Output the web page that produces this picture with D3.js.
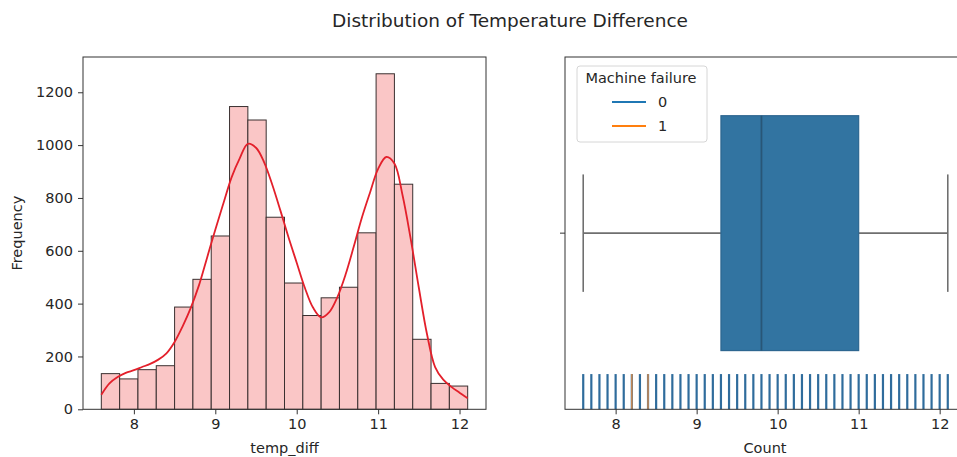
<!DOCTYPE html>
<html>
<head>
<meta charset="utf-8">
<script src="https://cdn.jsdelivr.net/npm/d3@7"></script>
<style>
  body { margin: 0; background: #ffffff; }
  svg { display: block; font-family: "DejaVu Sans", sans-serif; }
</style>
</head>
<body>
<svg id="chart" width="957" height="457"></svg>
<script>
// ---- data ----
const binEdges = [7.6, 7.825, 8.05, 8.275, 8.5, 8.725, 8.95, 9.175, 9.4, 9.625, 9.85,
                  10.075, 10.3, 10.525, 10.75, 10.975, 11.2, 11.425, 11.65, 11.875, 12.1];
const binCounts = [135, 115, 150, 165, 387, 492, 656, 1146, 1095, 727, 478,
                   355, 422, 462, 668, 1270, 852, 265, 98, 88];

// smoothed density curve, already in count units
const kdeX = [7.6, 7.7, 7.8, 7.9, 8.0, 8.1, 8.2, 8.3, 8.4, 8.5, 8.6, 8.7, 8.8, 8.9, 9.0,
              9.1, 9.2, 9.3, 9.4, 9.5, 9.6, 9.7, 9.8, 9.9, 10.0, 10.1, 10.2, 10.3, 10.4,
              10.5, 10.6, 10.7, 10.8, 10.9, 11.0, 11.1, 11.2, 11.3, 11.4, 11.5, 11.6,
              11.7, 11.8, 11.9, 12.0, 12.1];
const kdeY = [55, 98, 122, 138, 148, 160, 172, 188, 212, 255, 315, 385, 470, 575, 680,
              780, 878, 950, 1005, 990, 935, 850, 752, 650, 555, 460, 385, 348, 368,
              425, 510, 615, 725, 820, 910, 955, 930, 810, 645, 460, 285,
              160, 112, 85, 63, 42];

const xTicks = [8, 9, 10, 11, 12];
const yTicks = [0, 200, 400, 600, 800, 1000, 1200];

// box summary of temp_diff
const boxStats = { whiskerLow: 7.6, q1: 9.3, median: 9.8, q3: 11.0, whiskerHigh: 12.1 };

// distinct temp_diff values, per machine failure class
const rugValues0 = [7.6, 7.7, 7.8, 7.9, 8.0, 8.1, 8.2, 8.3, 8.4, 8.5, 8.6, 8.7, 8.8, 8.9,
                    9.0, 9.1, 9.2, 9.3, 9.4, 9.5, 9.6, 9.7, 9.8, 9.9, 10.0, 10.1, 10.2,
                    10.3, 10.4, 10.5, 10.6, 10.7, 10.8, 10.9, 11.0, 11.1, 11.2, 11.3,
                    11.4, 11.5, 11.6, 11.7, 11.8, 11.9, 12.0, 12.1];
const rugValues1 = [8.2, 8.4];
const failureClasses = ["0", "1"];
const classColors = ["#1f77b4", "#ff7f0e"];

// ---- layout ----
const svg = d3.select("#chart");
const plotTop = 57, plotBottom = 409.3;
const tickFont = 14.5, labelFont = 14.5;
const textColor = "#262626";

svg.append("text")
  .attr("x", 510).attr("y", 27)
  .attr("text-anchor", "middle")
  .attr("font-size", 18.5)
  .attr("fill", textColor)
  .text("Distribution of Temperature Difference");

function drawXAxis(g, x, label, labelX) {
  const ax = g.append("g")
    .attr("transform", `translate(0,${plotBottom})`)
    .call(d3.axisBottom(x).tickValues(xTicks).tickSize(5).tickPadding(4).tickFormat(d3.format("d")));
  ax.select(".domain").remove();
  ax.selectAll("line").attr("stroke", "#333").attr("stroke-width", 1);
  ax.selectAll("text").attr("font-size", tickFont).attr("fill", textColor)
    .attr("font-family", "DejaVu Sans, sans-serif");
  g.append("text")
    .attr("x", labelX).attr("y", 453)
    .attr("text-anchor", "middle")
    .attr("font-size", labelFont).attr("fill", textColor)
    .text(label);
}

// ---- left panel: histogram with density ----
{
  const g = svg.append("g");
  const x = d3.scaleLinear().domain([7.375, 12.325]).range([83, 486]);
  const y = d3.scaleLinear().domain([0, 1333.5]).range([plotBottom, plotTop]);

  const bins = binCounts.map((c, i) => ({ x0: binEdges[i], x1: binEdges[i + 1], count: c }));
  g.append("g").selectAll("rect")
    .data(bins).join("rect")
    .attr("x", d => x(d.x0))
    .attr("y", d => y(d.count))
    .attr("width", d => x(d.x1) - x(d.x0))
    .attr("height", d => y(0) - y(d.count))
    .attr("fill", "#fac6c6")
    .attr("stroke", "#3a3030")
    .attr("stroke-width", 1);

  const line = d3.line()
    .x((d, i) => x(kdeX[i]))
    .y(d => y(d))
    .curve(d3.curveCatmullRom.alpha(0.5));
  g.append("path")
    .attr("d", line(kdeY))
    .attr("fill", "none")
    .attr("stroke", "#e3202b")
    .attr("stroke-width", 1.8);

  const ay = g.append("g")
    .attr("transform", "translate(83,0)")
    .call(d3.axisLeft(y).tickValues(yTicks).tickSize(5).tickPadding(5).tickFormat(d3.format("d")));
  ay.select(".domain").remove();
  ay.selectAll("line").attr("stroke", "#333");
  ay.selectAll("text").attr("font-size", tickFont).attr("fill", textColor)
    .attr("font-family", "DejaVu Sans, sans-serif");

  drawXAxis(g, x, "temp_diff", 284.5);

  g.append("text")
    .attr("transform", `translate(22,${(plotTop + plotBottom) / 2}) rotate(-90)`)
    .attr("text-anchor", "middle")
    .attr("font-size", labelFont).attr("fill", textColor)
    .text("Frequency");

  g.append("rect")
    .attr("x", 83).attr("y", plotTop)
    .attr("width", 486 - 83).attr("height", plotBottom - plotTop)
    .attr("fill", "none").attr("stroke", "#333").attr("stroke-width", 1);
}

// ---- right panel: box plot with rug ----
{
  const g = svg.append("g");
  const left = 565, right = 966;
  const x = d3.scaleLinear().domain([7.375, 12.325]).range([left, right]);
  const y = d3.scaleLinear().domain([-0.6, 0.6]).range([plotTop, plotBottom]);
  const cy = y(0);

  // whiskers
  const wColor = "#6f6f6f";
  [[boxStats.whiskerLow, boxStats.q1], [boxStats.q3, boxStats.whiskerHigh]].forEach(([a, b]) => {
    g.append("line").attr("x1", x(a)).attr("x2", x(b)).attr("y1", cy).attr("y2", cy)
      .attr("stroke", wColor).attr("stroke-width", 1.6);
  });
  [boxStats.whiskerLow, boxStats.whiskerHigh].forEach(v => {
    g.append("line").attr("x1", x(v)).attr("x2", x(v)).attr("y1", y(-0.2)).attr("y2", y(0.2))
      .attr("stroke", wColor).attr("stroke-width", 1.6);
  });

  // box
  g.append("rect")
    .attr("x", x(boxStats.q1)).attr("y", y(-0.4))
    .attr("width", x(boxStats.q3) - x(boxStats.q1))
    .attr("height", y(0.4) - y(-0.4))
    .attr("fill", "#3274a1")
    .attr("stroke", "#2d6690").attr("stroke-width", 1.2);
  g.append("line")
    .attr("x1", x(boxStats.median)).attr("x2", x(boxStats.median))
    .attr("y1", y(-0.4)).attr("y2", y(0.4))
    .attr("stroke", "#285677").attr("stroke-width", 1.8);

  // rug along the bottom
  const rugH = 0.1 * (plotBottom - plotTop);
  const rug = g.append("g");
  [rugValues0, rugValues1].forEach((vals, k) => {
    rug.selectAll(null).data(vals).join("line")
      .attr("x1", d => x(d)).attr("x2", d => x(d))
      .attr("y1", plotBottom - rugH).attr("y2", plotBottom)
      .attr("stroke", k === 0 ? "#2f6c9c" : "#c88a55")
      .attr("stroke-width", k === 0 ? 2.2 : 1.6);
  });

  // y axis: a single category tick
  g.append("line").attr("x1", left - 5).attr("x2", left).attr("y1", cy).attr("y2", cy)
    .attr("stroke", "#333");

  drawXAxis(g, x, "Count", 765);

  // spines (right one lies beyond the canvas edge)
  g.append("rect")
    .attr("x", left).attr("y", plotTop)
    .attr("width", right - left).attr("height", plotBottom - plotTop)
    .attr("fill", "none").attr("stroke", "#333").attr("stroke-width", 1);

  // legend
  const lg = g.append("g").attr("transform", "translate(577,66)");
  lg.append("rect")
    .attr("width", 130).attr("height", 76).attr("rx", 3)
    .attr("fill", "#ffffff").attr("fill-opacity", 0.8)
    .attr("stroke", "#d6d6d6").attr("stroke-width", 1);
  lg.append("text")
    .attr("x", 64).attr("y", 17)
    .attr("text-anchor", "middle")
    .attr("font-size", 14.5).attr("fill", textColor)
    .text("Machine failure");
  failureClasses.forEach((c, i) => {
    const ly = 36 + i * 24;
    lg.append("line").attr("x1", 35).attr("x2", 69).attr("y1", ly).attr("y2", ly)
      .attr("stroke", classColors[i]).attr("stroke-width", 1.8);
    lg.append("text").attr("x", 81).attr("y", ly + 5)
      .attr("font-size", 14.5).attr("fill", textColor).text(c);
  });
}
</script>
</body>
</html>
